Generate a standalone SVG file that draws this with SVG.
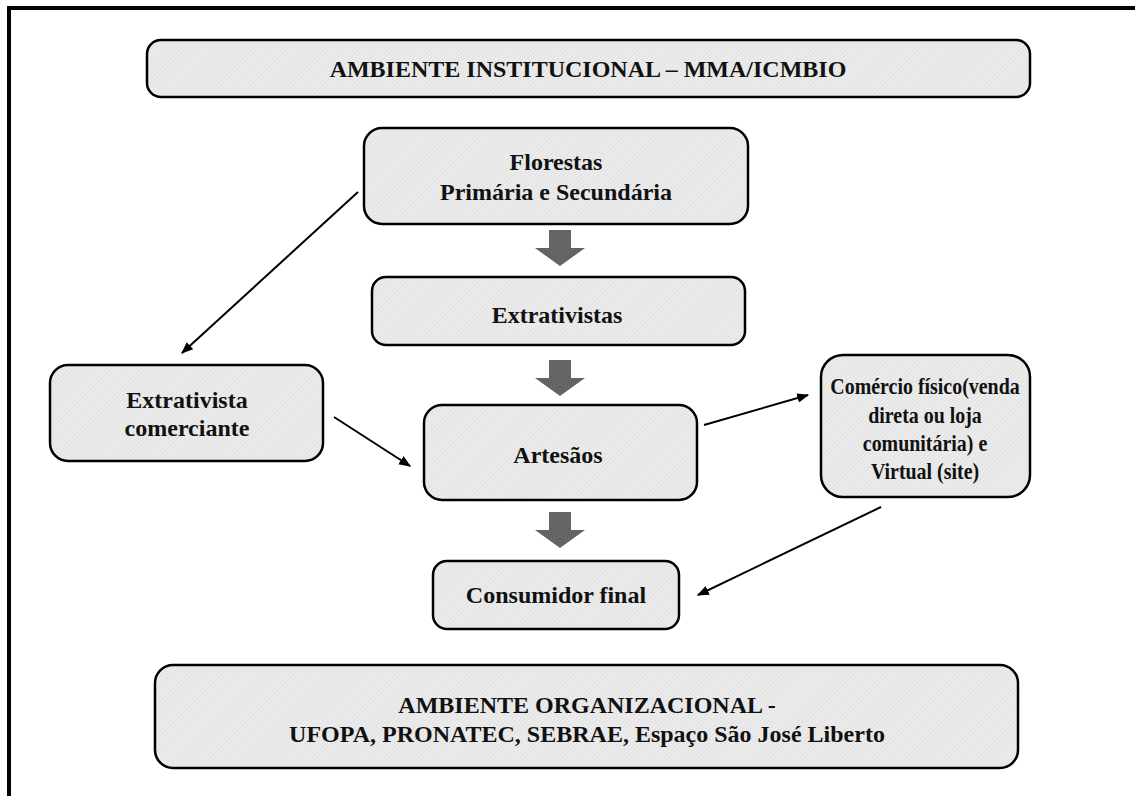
<svg xmlns="http://www.w3.org/2000/svg" width="1135" height="796" viewBox="0 0 1135 796">
<defs>
<pattern id="hatch" width="3" height="3" patternUnits="userSpaceOnUse" patternTransform="rotate(45)">
<rect width="3" height="3" fill="#ececec"/>
<line x1="0" y1="0" x2="0" y2="3" stroke="#d6d6d6" stroke-width="1"/>
</pattern>
<marker id="ah" viewBox="0 0 10 10" refX="9" refY="5" markerWidth="6" markerHeight="6" markerUnits="strokeWidth" orient="auto">
<path d="M0,1 L10,5 L0,9 Z" fill="#000"/>
</marker>
<path id="blk" d="M-11,0 H11 V18 H25 L0,36 L-25,18 H-11 Z"/>
</defs>
<style>
.box{fill:url(#hatch);stroke:#000;stroke-width:2.5}
.t{font-family:"Liberation Serif","Times New Roman",serif;font-weight:bold;font-size:24px;fill:#111;text-anchor:middle}
.c{stroke:#000;stroke-width:2;fill:none;marker-end:url(#ah)}
.ba{fill:#646464}
</style>
<rect width="1135" height="796" fill="#fff"/>
<path d="M9,796 V8 H1135" fill="none" stroke="#000" stroke-width="4"/>

<g id="inst">
<rect class="box" x="147" y="40" width="883" height="57" rx="14"/>
<text class="t" x="588" y="77">AMBIENTE INSTITUCIONAL – MMA/ICMBIO</text>
</g>
<g id="florestas">
<rect class="box" x="364" y="128" width="384" height="96" rx="18"/>
<text class="t" x="556" y="170">Florestas</text>
<text class="t" x="556" y="200">Primária e Secundária</text>
</g>
<g id="extrativistas">
<rect class="box" x="372" y="277" width="373" height="68" rx="14"/>
<text class="t" x="557" y="323">Extrativistas</text>
</g>
<g id="comerciante">
<rect class="box" x="50" y="365" width="273" height="96" rx="18"/>
<text class="t" x="187" y="408">Extrativista</text>
<text class="t" x="187" y="436">comerciante</text>
</g>
<g id="artesaos">
<rect class="box" x="424" y="405" width="273" height="95" rx="18"/>
<text class="t" x="558" y="463">Artesãos</text>
</g>
<g id="comercio">
<rect class="box" x="821" y="355" width="209" height="142" rx="22"/>
<g transform="translate(925,0) scale(0.83,1)">
<text class="t" x="0" y="394">Comércio físico(venda</text>
<text class="t" x="0" y="423">direta ou loja</text>
<text class="t" x="0" y="451">comunitária) e</text>
<text class="t" x="0" y="479">Virtual (site)</text>
</g>
</g>
<g id="consumidor">
<rect class="box" x="433" y="561" width="246" height="68" rx="14"/>
<text class="t" x="556" y="603">Consumidor final</text>
</g>
<g id="org">
<rect class="box" x="155" y="665" width="863" height="103" rx="18"/>
<text class="t" x="587" y="713">AMBIENTE ORGANIZACIONAL -</text>
<text class="t" x="587" y="742">UFOPA, PRONATEC, SEBRAE, Espaço São José Liberto</text>
</g>

<g id="connectors">
<use href="#blk" class="ba" x="560" y="230"/>
<use href="#blk" class="ba" x="560" y="360"/>
<use href="#blk" class="ba" x="560" y="512"/>
<line class="c" x1="358" y1="192" x2="182" y2="353"/>
<line class="c" x1="334" y1="417" x2="410" y2="466"/>
<line class="c" x1="704" y1="425" x2="808" y2="395"/>
<line class="c" x1="881" y1="507" x2="698" y2="595"/>
</g>
</svg>
